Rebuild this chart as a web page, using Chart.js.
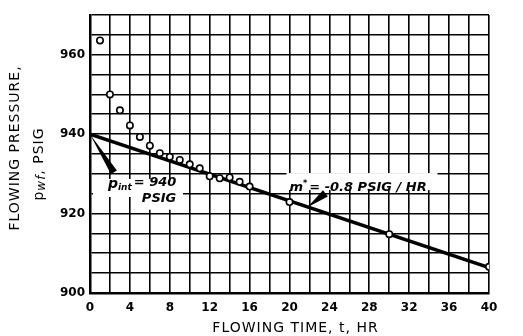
<!DOCTYPE html>
<html>
<head>
<meta charset="utf-8">
<script src="https://cdn.jsdelivr.net/npm/chart.js@4/dist/chart.umd.min.js"></script>
<style>
  html, body { margin: 0; padding: 0; background: #fff; }
</style>
</head>
<body>
<canvas id="chart" width="523" height="336"></canvas>
<script>
// measured flowing pressures (psig) vs flowing time (hr)
const times = [1, 2, 3, 4, 5, 6, 7, 8, 9, 10, 11, 12, 13, 14, 15, 16, 20, 30, 40];
const pressures = [963.6, 950, 946, 942.2, 939.3, 937.1, 935.2, 934.3, 933.5, 932.4, 931.4, 929.4, 928.9, 929.1, 928, 926.8, 922.9, 914.8, 906.6];

// straight line fitted through the late-time points
const lineTimes = [0, 40];
const linePressures = [940, 906.4];

// labelled ticks
const xLabels = [0, 4, 8, 12, 16, 20, 24, 28, 32, 36, 40];
const yLabels = [900, 920, 940, 960];

const FONT = '"DejaVu Sans", sans-serif';

// wedge-shaped leader line: apex (ax, ay), base centred on (bx, by) with half width w
function wedge(ctx, ax, ay, bx, by, w) {
  const dx = bx - ax, dy = by - ay;
  const len = Math.hypot(dx, dy);
  const nx = -dy / len * w, ny = dx / len * w;
  ctx.beginPath();
  ctx.moveTo(ax, ay);
  ctx.lineTo(bx + nx, by + ny);
  ctx.lineTo(bx - nx, by - ny);
  ctx.closePath();
  ctx.fill();
}

const extras = {
  id: 'extras',
  beforeDatasetsDraw(chart) {
    const ctx = chart.ctx;
    const x = chart.scales.x, y = chart.scales.y;
    ctx.save();
    ctx.fillStyle = '#fff';
    // box behind "p_int = 940 PSIG"
    ctx.fillRect(x.getPixelForValue(0.3), y.getPixelForValue(928.7), 90, 18);
    ctx.fillRect(x.getPixelForValue(4.8), y.getPixelForValue(924.5), 44, 14);
    // box behind "m* = -0.8 PSIG/HR"
    ctx.fillRect(x.getPixelForValue(19.7), y.getPixelForValue(930.2), 151, 17);
    ctx.restore();
  },
  afterDatasetsDraw(chart) {
    const ctx = chart.ctx;
    const x = chart.scales.x, y = chart.scales.y;
    ctx.save();
    ctx.fillStyle = '#000';
    ctx.textBaseline = 'alphabetic';

    // p_int label
    let px = x.getPixelForValue(1.8), py = y.getPixelForValue(926.4);
    ctx.font = 'italic bold 14px ' + FONT;
    ctx.fillText('p', px, py);
    px += ctx.measureText('p').width;
    ctx.font = 'italic bold 9px ' + FONT;
    ctx.fillText('int', px, py + 2);
    px += ctx.measureText('int').width + 2;
    ctx.font = 'italic bold 13px ' + FONT;
    ctx.fillText('= 940', px, py - 2);
    ctx.fillText('PSIG', x.getPixelForValue(5.2), y.getPixelForValue(922.9));

    // m* label
    ctx.font = 'italic bold 13px ' + FONT;
    px = x.getPixelForValue(20); py = y.getPixelForValue(925.8);
    ctx.fillText('m', px, py);
    px += ctx.measureText('m').width;
    ctx.font = 'italic bold 8px ' + FONT;
    ctx.fillText('*', px, py - 5);
    px += ctx.measureText('*').width + 2;
    ctx.font = 'italic bold 13px ' + FONT;
    ctx.fillText('= -0.8 PSIG / HR', px, py);

    // leaders
    wedge(ctx, x.getPixelForValue(0), y.getPixelForValue(940),
      x.getPixelForValue(2.4), y.getPixelForValue(930.4), 3.5);
    wedge(ctx, x.getPixelForValue(21.8), y.getPixelForValue(921.6),
      x.getPixelForValue(23.6), y.getPixelForValue(925.1), 4);
    ctx.restore();
  },
  afterDraw(chart) {
    const ctx = chart.ctx;
    const area = chart.chartArea;
    ctx.save();
    ctx.fillStyle = '#000';
    ctx.textBaseline = 'middle';

    // x axis title
    ctx.font = '14px ' + FONT;
    ctx.textAlign = 'center';
    ctx.letterSpacing = '1px';
    ctx.fillText('FLOWING TIME, t, HR', (area.left + area.right) / 2 + 6, 328);

    // y axis title, two lines rotated
    ctx.translate(15, 148);
    ctx.rotate(-Math.PI / 2);
    ctx.fillText('FLOWING PRESSURE,', 0, 0);
    ctx.restore();

    ctx.save();
    ctx.fillStyle = '#000';
    ctx.textBaseline = 'middle';
    ctx.translate(39, 164);
    ctx.rotate(-Math.PI / 2);
    ctx.letterSpacing = '1px';
    const p = 'p', sub = 'wf', rest = ', PSIG';
    ctx.font = 'italic 12px ' + FONT;
    const wSub = ctx.measureText(sub).width;
    ctx.font = '14px ' + FONT;
    const wP = ctx.measureText(p).width, wRest = ctx.measureText(rest).width;
    let sx = -(wP + wSub + wRest) / 2;
    ctx.textAlign = 'left';
    ctx.fillText(p, sx, 0);
    sx += wP;
    ctx.font = 'italic 12px ' + FONT;
    ctx.fillText(sub, sx, 3);
    sx += wSub;
    ctx.font = '14px ' + FONT;
    ctx.fillText(rest, sx, 0);
    ctx.restore();
  }
};

const gridStyle = { color: '#000', lineWidth: 1.6, drawTicks: false };

new Chart(document.getElementById('chart'), {
  type: 'scatter',
  data: {
    datasets: [{
      label: 'Fitted line',
      data: lineTimes.map((t, i) => ({ x: t, y: linePressures[i] })),
      showLine: true,
      borderColor: '#000',
      borderWidth: 3.5,
      pointRadius: 0,
      order: 2
    }, {
      label: 'Measured',
      data: times.map((t, i) => ({ x: t, y: pressures[i] })),
      pointRadius: 3.2,
      pointBorderWidth: 1.6,
      pointBorderColor: '#000',
      pointBackgroundColor: '#fff',
      order: 1
    }]
  },
  options: {
    responsive: false,
    animation: false,
    layout: { padding: { top: 15, right: 34, left: 0, bottom: 0 } },
    plugins: {
      legend: { display: false },
      tooltip: { enabled: false }
    },
    scales: {
      x: {
        type: 'linear',
        min: 0,
        max: 40,
        grid: gridStyle,
        border: { color: '#000', width: 2.5 },
        ticks: {
          stepSize: 2,
          autoSkip: false,
          maxRotation: 0,
          padding: 8,
          color: '#000',
          font: { family: FONT, size: 12, weight: 'bold' },
          callback: v => xLabels.includes(v) ? String(v) : ''
        },
        afterFit: s => { s.height = 43; }
      },
      y: {
        min: 900,
        max: 970,
        grid: gridStyle,
        border: { color: '#000', width: 2.5 },
        ticks: {
          stepSize: 5,
          autoSkip: false,
          padding: 5,
          color: '#000',
          font: { family: FONT, size: 12, weight: 'bold' },
          callback: v => yLabels.includes(v) ? String(v) : ''
        },
        afterFit: s => { s.width = 90; }
      }
    }
  },
  plugins: [extras]
});
</script>
</body>
</html>
